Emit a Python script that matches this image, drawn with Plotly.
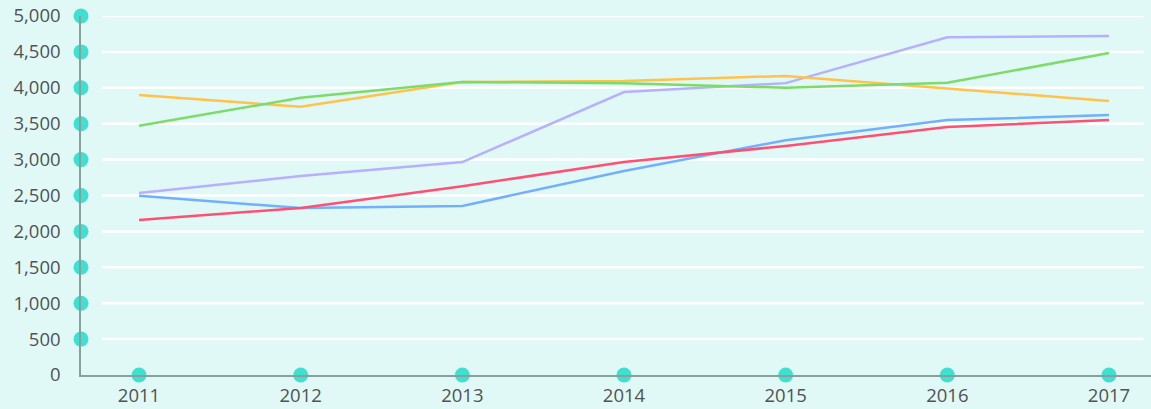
import plotly.graph_objects as go

years = ["2011", "2012", "2013", "2014", "2015", "2016", "2017"]
orange = [3900, 3735, 4080, 4095, 4165, 3995, 3815]
green = [3470, 3860, 4080, 4065, 4000, 4070, 4485]
purple = [2535, 2770, 2965, 3940, 4065, 4705, 4720]
blue = [2495, 2325, 2355, 2840, 3270, 3550, 3620]
red = [2160, 2325, 2630, 2965, 3190, 3455, 3550]
y_ticks = [0, 500, 1000, 1500, 2000, 2500, 3000, 3500, 4000, 4500, 5000]

series = [
    ("blue", blue, "#70b0ff"),
    ("red", red, "#ff4f72"),
    ("purple", purple, "#b5b0ff"),
    ("orange", orange, "#ffc24a"),
    ("green", green, "#7ddb6c"),
]

BG = "#e1f9f6"
DOT = "#40e0d0"
XMIN, XMAX = -0.359, 6.26

fig = go.Figure()
xs = list(range(len(years)))
for name, vals, col in series:
    fig.add_trace(go.Scatter(x=xs, y=vals, mode="lines", name=name,
                             line=dict(color=col, width=2.5), hoverinfo="skip"))

# gridlines (short of the axis ends)
for t in y_ticks[1:]:
    fig.add_shape(type="line", xref="paper", yref="y", x0=0.0196, x1=0.9935,
                  y0=t, y1=t, line=dict(color="white", width=2.5), layer="below")

# axis dots
fig.add_trace(go.Scatter(x=[XMIN] * (len(y_ticks) - 1), y=y_ticks[1:], mode="markers",
                         marker=dict(color=DOT, size=15), cliponaxis=False, hoverinfo="skip"))
fig.add_trace(go.Scatter(x=xs, y=[0] * len(xs), mode="markers",
                         marker=dict(color=DOT, size=15), cliponaxis=False, hoverinfo="skip"))

font = dict(family="Open Sans", size=18.5, color="#525252")
fig.update_layout(
    width=1151, height=409,
    margin=dict(l=81, r=0, t=16, b=34),
    paper_bgcolor=BG, plot_bgcolor=BG,
    showlegend=False, hovermode=False,
    font=font,
    xaxis=dict(range=[XMIN, XMAX], tickvals=xs, ticktext=years, showgrid=False,
               zeroline=False, showline=True, linecolor="#86a09c", linewidth=1.5,
               ticks="outside", ticklen=3, tickcolor="rgba(0,0,0,0)", tickfont=font,
               automargin=False),
    yaxis=dict(range=[0, 5000], tickvals=y_ticks, tickformat=",d", showgrid=False,
               zeroline=False, showline=True, linecolor="#86a09c", linewidth=1.5,
               ticks="outside", ticklen=15, tickcolor="rgba(0,0,0,0)", tickfont=font,
               automargin=False),
)

fig.write_html("out.html", config={"displayModeBar": False},
               post_script="document.body.style.margin='0';document.body.style.background='" + BG + "';")
